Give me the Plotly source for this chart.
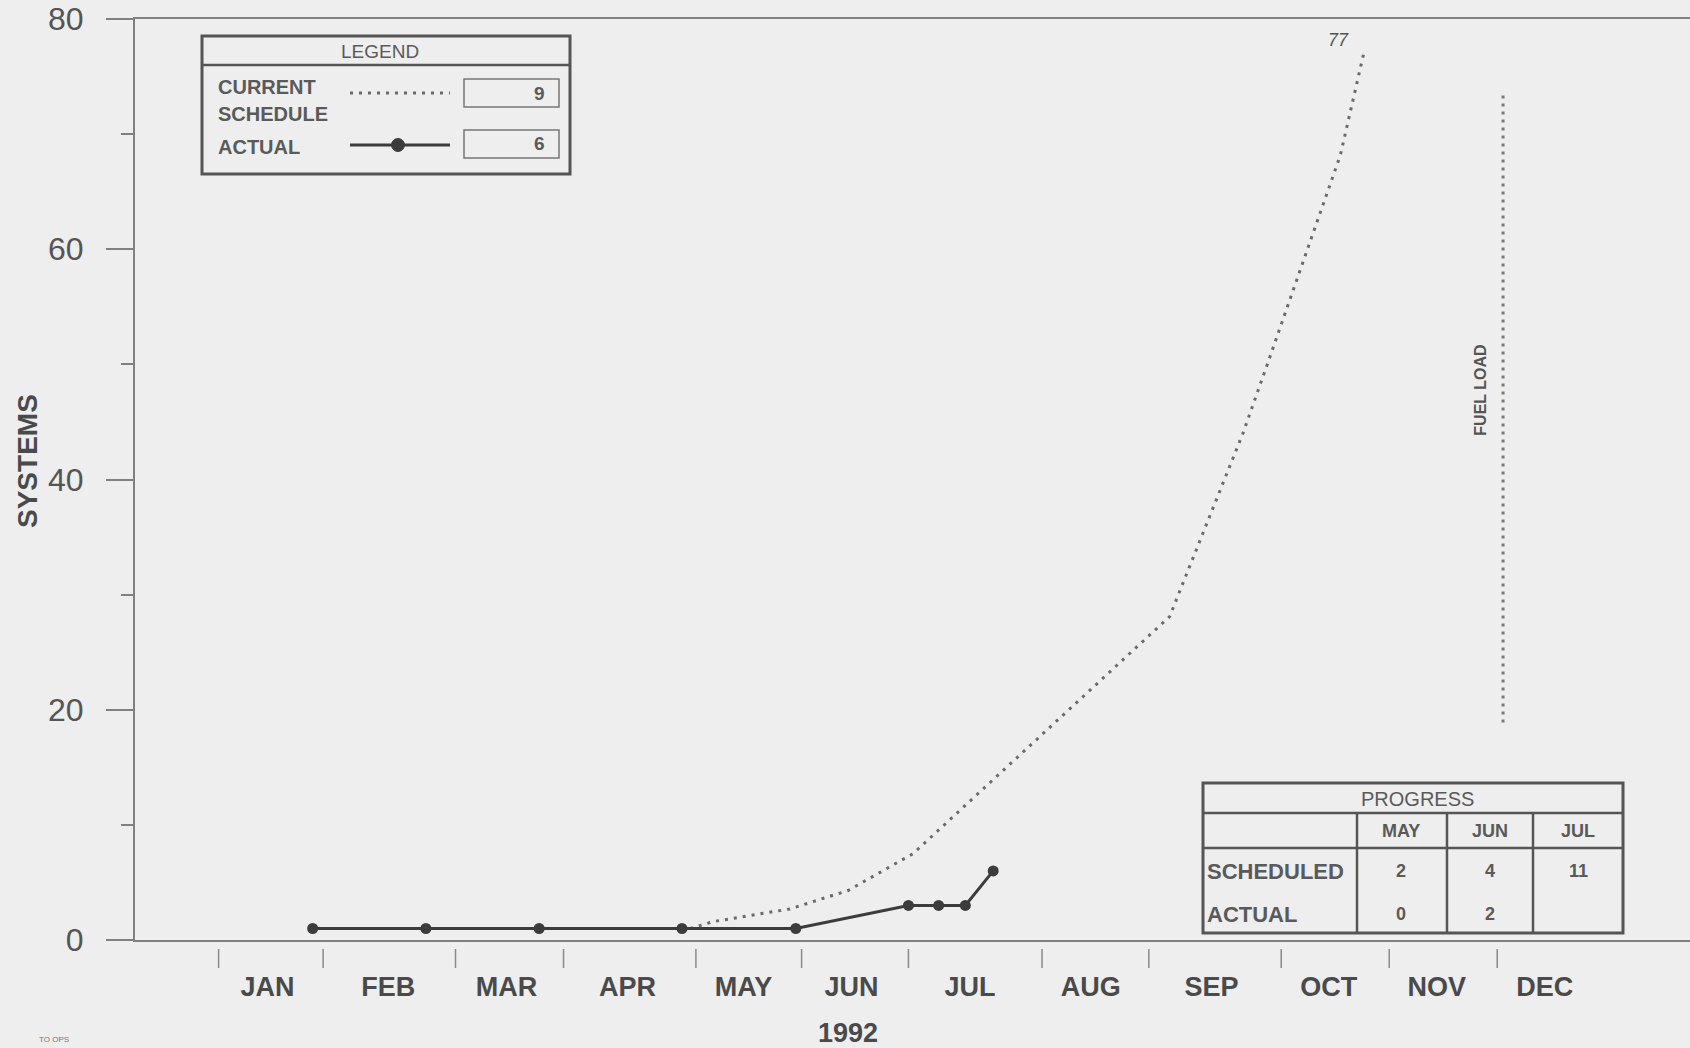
import plotly.graph_objects as go

# ---------------- data ----------------
months = ["JAN", "FEB", "MAR", "APR", "MAY", "JUN", "JUL", "AUG", "SEP", "OCT", "NOV", "DEC"]
year_label = "1992"

actual_x = [0.39, 1.365, 2.34, 3.57, 4.55, 5.52, 5.78, 6.01, 6.25]
actual_y = [1, 1, 1, 1, 1, 3, 3, 3, 6]

schedule_x = [3.64, 3.84, 4.5, 5.0, 5.56, 6.43, 6.74, 7.15, 7.77, 7.86, 8.40, 8.61, 9.24, 9.44]
schedule_y = [1, 1.6, 2.7, 4.3, 7.5, 15.6, 18.5, 22.3, 28.1, 30.4, 44.0, 50.0, 68.2, 77]
schedule_end_label = "77"

fuel_load_x = [10.64, 10.64]
fuel_load_y = [18.9, 73.7]

legend_current = 9
legend_actual = 6

progress_months = ["MAY", "JUN", "JUL"]
progress_scheduled = ["2", "4", "11"]
progress_actual = ["0", "2", ""]

y_ticks = [0, 20, 40, 60, 80]

# ---------------- axis layout (hand-drawn month grid of the original) ----------------
month_label_pos = [0, 1.04, 2.06, 3.10, 4.10, 5.03, 6.05, 7.09, 8.13, 9.14, 10.07, 11.0]
month_bounds = [-0.42, 0.48, 1.62, 2.55, 3.69, 4.60, 5.52, 6.67, 7.59, 8.73, 9.66, 10.59]

# ---------------- layout helpers ----------------
W, H = 1690, 1048
L, R, T, B = 135, 0, 19, 108
PW, PH = W - L - R, H - T - B

def fx(X):
    return (X - L) / PW

def fy(Y):
    return (H - B - Y) / PH

BG = "#eeeeee"
INK = "#4d4d4d"
LINE = "#808080"
FONT = "Liberation Sans, Arial, sans-serif"
DOTS = "3px,6px"

fig = go.Figure()

fig.add_trace(go.Scatter(
    x=schedule_x, y=schedule_y, mode="lines",
    line=dict(color="#6a6a6a", width=3, dash=DOTS),
    name="CURRENT SCHEDULE"))

fig.add_trace(go.Scatter(
    x=actual_x, y=actual_y, mode="lines+markers",
    line=dict(color="#3c3c3c", width=3),
    marker=dict(color="#3c3c3c", size=11),
    name="ACTUAL"))

fig.add_trace(go.Scatter(
    x=fuel_load_x, y=fuel_load_y, mode="lines",
    line=dict(color="#7a7a7a", width=3, dash="3px,5px"),
    name="FUEL LOAD"))

shapes = []
annotations = []

# month boundary ticks (detached below axis)
for b in month_bounds:
    shapes.append(dict(type="line", xref="x", yref="paper", x0=b, x1=b,
                       y0=fy(949), y1=fy(968), line=dict(color="#8a8a8a", width=1.5)))

def rect(x0, y0, x1, y1, w=2.5, c="#555555"):
    shapes.append(dict(type="rect", xref="paper", yref="paper",
                       x0=fx(x0), x1=fx(x1), y0=fy(y1), y1=fy(y0),
                       line=dict(color=c, width=w)))

def hline(x0, x1, y, w=2.5, c="#555555", dash=None):
    ln = dict(color=c, width=w)
    if dash:
        ln["dash"] = dash
    shapes.append(dict(type="line", xref="paper", yref="paper",
                       x0=fx(x0), x1=fx(x1), y0=fy(y), y1=fy(y), line=ln))

def vline(x, y0, y1, w=2.5, c="#555555"):
    shapes.append(dict(type="line", xref="paper", yref="paper",
                       x0=fx(x), x1=fx(x), y0=fy(y0), y1=fy(y1), line=dict(color=c, width=w)))

def dot(x, y, r, c="#3c3c3c"):
    shapes.append(dict(type="circle", xref="paper", yref="paper",
                       x0=fx(x - r), x1=fx(x + r), y0=fy(y + r), y1=fy(y - r),
                       fillcolor=c, line=dict(color=c, width=1)))

def text(x, y, s, size=20, anchor="center", color="#5a5a5a", angle=0, bold=False, italic=False):
    annotations.append(dict(xref="paper", yref="paper", x=fx(x), y=fy(y), text=s,
                            showarrow=False, xanchor=anchor, yanchor="middle",
                            textangle=angle,
                            font=dict(size=size, color=color, family=FONT,
                                      weight="bold" if bold else "normal",
                                      style="italic" if italic else "normal")))

# legend box
rect(202, 36, 570, 174, w=3)
hline(202, 570, 65, w=2.5)
text(380, 51, "LEGEND", size=19)
text(216, 87, "CURRENT", size=20, anchor="left", bold=True)
text(216, 114, "SCHEDULE", size=20, anchor="left", bold=True)
text(216, 147, "ACTUAL", size=20, anchor="left", bold=True)
hline(350, 450, 93, w=3, c="#6a6a6a", dash=DOTS)
hline(350, 450, 145, w=3, c="#3c3c3c")
dot(398, 145, 6.5)
rect(464, 79, 559, 107, w=1.5, c="#777777")
rect(464, 130, 559, 158, w=1.5, c="#777777")
text(547, 93, str(legend_current), size=19, anchor="right", bold=True)
text(547, 144, str(legend_actual), size=19, anchor="right", bold=True)

# progress table
rect(1203, 783, 1623, 933, w=3)
hline(1203, 1623, 813)
hline(1203, 1623, 848)
for cx in (1357, 1447, 1533):
    vline(cx, 813, 933)
text(1417, 799, "PROGRESS", size=20)
col_cx = [1401, 1490, 1578]
for i, m in enumerate(progress_months):
    text(col_cx[i], 831, m, size=18, bold=True)
    text(col_cx[i], 871, progress_scheduled[i], size=18, bold=True)
    if progress_actual[i]:
        text(col_cx[i], 914, progress_actual[i], size=18, bold=True)
text(1205, 871, "SCHEDULED", size=22, anchor="left", bold=True)
text(1205, 914, "ACTUAL", size=22, anchor="left", bold=True)

# chart annotations
annotations.append(dict(xref="x", yref="y", x=schedule_x[-1] - 0.22, y=schedule_y[-1] + 1.2,
                        text=schedule_end_label, showarrow=False,
                        font=dict(size=18, color="#555555", family=FONT, style="italic")))
annotations.append(dict(xref="x", yref="y", x=fuel_load_x[0] - 0.19,
                        y=(fuel_load_y[0] + fuel_load_y[1]) / 2 + 1.5,
                        text="FUEL LOAD", textangle=-90, showarrow=False,
                        font=dict(size=16, color="#555555", family=FONT, weight="bold")))
text(27, 461, "SYSTEMS", size=28, angle=-90, bold=True, color="#4a4a4a")
text(848, 1033, year_label, size=27, bold=True, color="#4a4a4a")
text(54, 1039, "TO OPS", size=8, color="#777777")

fig.update_layout(
    width=W, height=H,
    margin=dict(l=L, r=R, t=T, b=B),
    paper_bgcolor=BG, plot_bgcolor=BG,
    showlegend=False,
    shapes=shapes, annotations=annotations,
    font=dict(family=FONT, color=INK),
    xaxis=dict(range=[-1.14, 12.25], showgrid=False, zeroline=False,
               showline=True, linecolor=LINE, linewidth=2, mirror=True,
               ticks="", tickvals=month_label_pos, ticktext=months,
               tickfont=dict(size=27, family=FONT, color="#4a4a4a", weight="bold"),
               ticklabelstandoff=22),
    yaxis=dict(range=[0, 80], showgrid=False, zeroline=False,
               showline=True, linecolor=LINE, linewidth=2,
               ticks="outside", tickvals=y_ticks, ticklen=27, tickwidth=2, tickcolor=LINE,
               minor=dict(dtick=10, ticks="outside", ticklen=12, tickwidth=2, tickcolor=LINE),
               tickfont=dict(size=32, color="#555555", family=FONT),
               ticklabelstandoff=16),
)

fig.write_html(
    "out.html",
    config={"displayModeBar": False},
    post_script="document.body.style.margin='0';document.body.style.background='#eeeeee';"
                "document.body.style.overflow='hidden';",
)
